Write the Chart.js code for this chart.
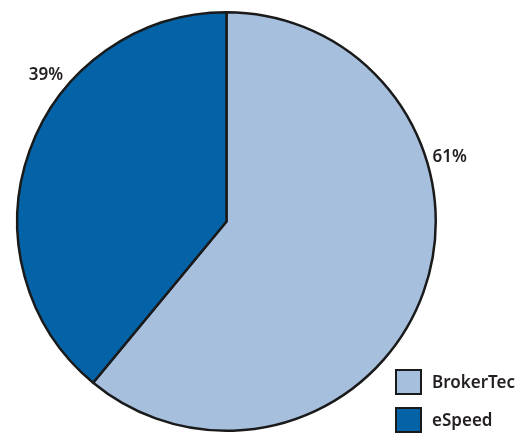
<!DOCTYPE html>
<html>
<head>
<meta charset="utf-8">
<script src="https://cdn.jsdelivr.net/npm/chart.js@4"></script>
<style>
  html, body { margin: 0; padding: 0; background: #ffffff; }
  #wrap { position: relative; width: 524px; height: 435px; }
  #legend { position: absolute; left: 395px; top: 369px; font-family: "Noto Sans", sans-serif; font-weight: 600; font-size: 17px; color: #231f20; }
  .item { display: flex; align-items: center; height: 25px; margin-bottom: 13px; }
  .box { width: 23px; height: 22px; border: 2px solid #1a1a1a; margin-right: 10px; box-sizing: content-box; }
</style>
</head>
<body>
<div id="wrap">
  <canvas id="grafico" width="524" height="435"></canvas>
  <div id="legend"></div>
</div>
<script>
const categorias = ["BrokerTec", "eSpeed"];
const valores = [61, 39];
const etiquetas = ["61%", "39%"];
const colores = ["#a6bfdd", "#0462a6"];
// angle (degrees clockwise from top) where each label sits
const angulosEtiqueta = [74, 309];

const etiquetasPlugin = {
  id: "etiquetas",
  afterDatasetsDraw(chart) {
    const ctx = chart.ctx;
    const arcs = chart.getDatasetMeta(0).data;
    ctx.save();
    ctx.font = "600 17px 'Noto Sans', sans-serif";
    ctx.fillStyle = "#231f20";
    ctx.textAlign = "center";
    ctx.textBaseline = "middle";
    arcs.forEach((arc, i) => {
      const a = (angulosEtiqueta[i] - 90) * Math.PI / 180;
      const r = arc.outerRadius + 23;
      ctx.fillText(etiquetas[i], arc.x + Math.cos(a) * r, arc.y + Math.sin(a) * r);
    });
    ctx.restore();
  },
};

new Chart(document.getElementById("grafico"), {
  type: "pie",
  data: {
    labels: categorias,
    datasets: [
      {
        data: valores,
        backgroundColor: colores,
        borderColor: "#1a1a1a",
        borderWidth: 2.5,
        hoverOffset: 0,
      },
    ],
  },
  options: {
    responsive: false,
    animation: false,
    layout: { padding: { left: 16, right: 87, top: 11, bottom: 3 } },
    plugins: {
      legend: { display: false },
      tooltip: { enabled: false },
    },
  },
  plugins: [etiquetasPlugin],
});

const legend = document.getElementById("legend");
categorias.forEach((c, i) => {
  const item = document.createElement("div");
  item.className = "item";
  const box = document.createElement("span");
  box.className = "box";
  box.style.background = colores[i];
  const txt = document.createElement("span");
  txt.textContent = c;
  item.appendChild(box);
  item.appendChild(txt);
  legend.appendChild(item);
});
</script>
</body>
</html>
